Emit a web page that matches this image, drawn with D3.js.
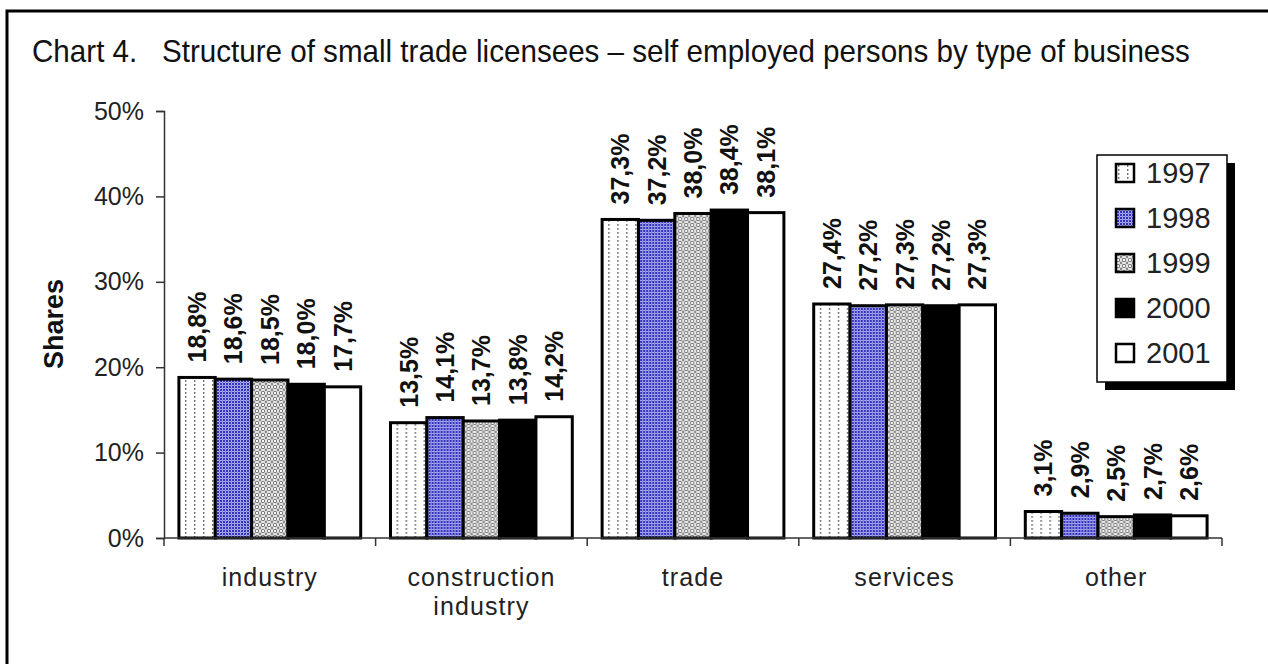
<!DOCTYPE html>
<html>
<head>
<meta charset="utf-8">
<script src="https://cdn.jsdelivr.net/npm/d3@7"></script>
<style>
  html, body { margin: 0; padding: 0; background: #fff; }
  svg { display: block; font-family: Arial, "Liberation Sans", sans-serif; }
</style>
</head>
<body>
<svg id="chart" width="1268" height="664"></svg>
<script>
// Business types and survey years
const categories = [["industry"], ["construction", "industry"], ["trade"], ["services"], ["other"]];
const years = ["1997", "1998", "1999", "2000", "2001"];

// Shares (%) per business type, one array per year
const v1997 = [18.8, 13.5, 37.3, 27.4, 3.1];
const v1998 = [18.6, 14.1, 37.2, 27.2, 2.9];
const v1999 = [18.5, 13.7, 38.0, 27.3, 2.5];
const v2000 = [18.0, 13.8, 38.4, 27.2, 2.7];
const v2001 = [17.7, 14.2, 38.1, 27.3, 2.6];
const series = [v1997, v1998, v1999, v2000, v2001];

const yTicks = [0, 10, 20, 30, 40, 50];

const svg = d3.select("#chart");
const W = 1268, H = 664;

// ---- fill patterns ----
const defs = svg.append("defs");
const p97 = defs.append("pattern").attr("id", "p1997").attr("patternUnits", "userSpaceOnUse")
  .attr("width", 9).attr("height", 4);
p97.append("rect").attr("width", 9).attr("height", 4).attr("fill", "#fff");
p97.append("rect").attr("x", 3).attr("y", 0).attr("width", 1.4).attr("height", 1.8).attr("fill", "#666");

const p98 = defs.append("pattern").attr("id", "p1998").attr("patternUnits", "userSpaceOnUse")
  .attr("width", 6).attr("height", 6);
p98.append("rect").attr("width", 6).attr("height", 6).attr("fill", "#2e2ebc");
[[3,3],[0,0],[6,0],[0,6],[6,6]].forEach(([cx, cy]) =>
  p98.append("circle").attr("cx", cx).attr("cy", cy).attr("r", 1.7).attr("fill", "none")
    .attr("stroke", "#d8d8ff").attr("stroke-width", 0.75));

const p99 = defs.append("pattern").attr("id", "p1999").attr("patternUnits", "userSpaceOnUse")
  .attr("width", 6).attr("height", 6);
p99.append("rect").attr("width", 6).attr("height", 6).attr("fill", "#fafafa");
p99.append("circle").attr("cx", 3).attr("cy", 3).attr("r", 1.8).attr("fill", "none")
  .attr("stroke", "#666").attr("stroke-width", 1);
[[0,0],[6,0],[0,6],[6,6]].forEach(([cx, cy]) =>
  p99.append("circle").attr("cx", cx).attr("cy", cy).attr("r", 1.4).attr("fill", "#888"));

const fills = ["url(#p1997)", "url(#p1998)", "url(#p1999)", "#000", "#fff"];

// ---- frame and title ----
svg.append("rect").attr("x", 7).attr("y", 11).attr("width", W + 20).attr("height", H + 20)
  .attr("fill", "#fff").attr("stroke", "#000").attr("stroke-width", 3);

svg.append("text").attr("transform", "translate(32,62) scale(1,1.08)")
  .attr("font-size", 29.6).attr("fill", "#111")
  .attr("xml:space", "preserve")
  .text("Chart 4.   Structure of small trade licensees \u2013 self employed persons by type of business");

// ---- scales ----
const plot = { left: 164, right: 1222, top: 111, bottom: 538 };
const x0 = d3.scaleBand().domain(d3.range(categories.length))
  .range([plot.left, plot.right]).paddingInner(0).paddingOuter(0);
const x1 = d3.scaleBand().domain(d3.range(years.length))
  .range([0, x0.bandwidth()]).paddingOuter(0.41).paddingInner(0);
const y = d3.scaleLinear().domain([0, 50]).range([plot.bottom, plot.top]);

// ---- y axis ----
const yAxis = svg.append("g").attr("transform", `translate(${plot.left},0)`)
  .call(d3.axisLeft(y).tickValues(yTicks).tickSize(8).tickPadding(12).tickFormat(d => d + "%"));
yAxis.select(".domain").attr("stroke", "#333").attr("stroke-width", 1.5);
yAxis.selectAll(".tick line").attr("stroke", "#333").attr("stroke-width", 1.5);
yAxis.selectAll(".tick text").attr("font-size", 25).attr("fill", "#222")
  .attr("font-family", "Arial, 'Liberation Sans', sans-serif");

svg.append("text")
  .attr("transform", `translate(53,${(278 + 370) / 2}) rotate(-90)`)
  .attr("text-anchor", "middle").attr("dy", "0.36em")
  .attr("font-size", 27).attr("font-weight", "bold").attr("fill", "#111")
  .text("Shares");

// ---- bars ----
const groups = svg.append("g").selectAll("g").data(categories).join("g")
  .attr("transform", (d, i) => `translate(${x0(i)},0)`);

groups.each(function (cat, ci) {
  const g = d3.select(this);
  series.forEach((vals, si) => {
    const v = vals[ci];
    g.append("rect")
      .attr("x", x1(si)).attr("y", y(v))
      .attr("width", x1.bandwidth()).attr("height", y(0) - y(v))
      .attr("fill", fills[si]).attr("stroke", "#000").attr("stroke-width", 3);
    g.append("text")
      .attr("transform", `translate(${x1(si) + x1.bandwidth() / 2},${y(v) - 15}) rotate(-90)`)
      .attr("dy", "0.36em").attr("text-anchor", "start")
      .attr("font-size", 25).attr("font-weight", "bold").attr("fill", "#111")
      .text(v.toFixed(1).replace(".", ",") + "%");
  });
});

// ---- x axis ----
svg.append("line").attr("x1", plot.left).attr("x2", plot.right)
  .attr("y1", plot.bottom).attr("y2", plot.bottom)
  .attr("stroke", "#333").attr("stroke-width", 1.5);
const tickXs = d3.range(categories.length).map(i => x0(i)).concat([plot.right]);
svg.append("g").selectAll("line").data(tickXs).join("line")
  .attr("x1", d => d).attr("x2", d => d)
  .attr("y1", plot.bottom).attr("y2", plot.bottom + 8)
  .attr("stroke", "#333").attr("stroke-width", 1.5);

groups.each(function (cat) {
  const t = d3.select(this).append("text")
    .attr("text-anchor", "middle").attr("font-size", 25)
    .attr("letter-spacing", 1.1).attr("fill", "#222");
  cat.forEach((line, li) => {
    t.append("tspan").attr("x", x0.bandwidth() / 2).attr("y", 586 + li * 29).text(line);
  });
});

// ---- legend ----
const lg = { x: 1097, y: 155, w: 130, h: 227 };
svg.append("rect").attr("x", lg.x + 8).attr("y", lg.y + 8).attr("width", lg.w).attr("height", lg.h)
  .attr("fill", "#000");
svg.append("rect").attr("x", lg.x).attr("y", lg.y).attr("width", lg.w).attr("height", lg.h)
  .attr("fill", "#fff").attr("stroke", "#000").attr("stroke-width", 1.5);
const items = svg.append("g").selectAll("g").data(years).join("g")
  .attr("transform", (d, i) => `translate(${lg.x},${lg.y + 18 + i * 45})`);
items.append("rect").attr("x", 19).attr("y", -9).attr("width", 18).attr("height", 18)
  .attr("fill", (d, i) => fills[i]).attr("stroke", "#000").attr("stroke-width", 2.5);
items.append("text").attr("x", 49).attr("dy", "0.36em")
  .attr("font-size", 29).attr("fill", "#222").text(d => d);
</script>
</body>
</html>
